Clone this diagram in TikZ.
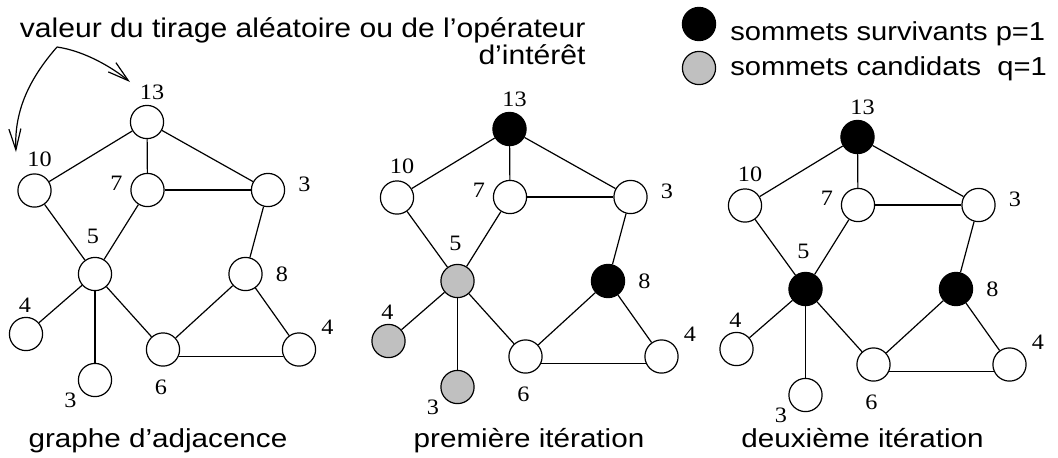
\documentclass[tikz,border=0pt]{standalone}
\usepackage{fontspec}
\setmainfont{Liberation Serif}
\newfontfamily\lsans{Liberation Sans}
\usepackage{graphicx}
\usetikzlibrary{arrows.meta}
\definecolor{candgray}{RGB}{192,192,192}
\newcommand\numlab[1]{\scalebox{1.1}[1]{#1}}
\newcommand\sanslab[1]{\scalebox{1.14}[1]{#1}}
\newcommand\drawgraph[8]{%
 \begin{scope}[shift={(#2,#3)}]
  \node[#4] (#1n13) at (147,122) {};
  \node[vtx] (#1n10) at (34.5,190.5) {};
  \node[vtx] (#1n7) at (147.5,190) {};
  \node[vtx] (#1n3) at (268,190) {};
  \node[#5] (#1n5) at (95,274) {};
  \node[#6] (#1n8) at (245.5,274) {};
  \node[#7] (#1n4l) at (26,334) {};
  \node[vtx] (#1n6) at (163,349.5) {};
  \node[vtx] (#1n4r) at (299,349.5) {};
  \node[#8] (#1n3b) at (95,380) {};
  \node[numtxt] (#1l13) at (152,92.5) {\numlab{13}};
  \node[numtxt] (#1l10) at (39.5,159.5) {\numlab{10}};
  \node[numtxt] (#1l7) at (116.5,183.5) {\numlab{7}};
  \node[numtxt] (#1l3) at (304.5,184) {\numlab{3}};
  \node[numtxt] (#1l5) at (93,236) {\numlab{5}};
  \node[numtxt] (#1l8) at (282,274) {\numlab{8}};
  \node[numtxt] (#1l4l) at (25,305) {\numlab{4}};
  \node[numtxt] (#1l4r) at (327.5,327) {\numlab{4}};
  \node[numtxt] (#1l6) at (161,387.5) {\numlab{6}};
  \node[numtxt] (#1l3b) at (70.5,400) {\numlab{3}};
  \draw[edge] (#1n13) -- (#1n10);
  \draw[edge] (#1n13) -- (#1n7);
  \draw[edge] (#1n13) -- (#1n3);
  \draw[edge] (#1n7) -- (#1n3);
  \draw[edge] (#1n10) -- (#1n5);
  \draw[edge] (#1n7) -- (#1n5);
  \draw[edge] (#1n3) -- (#1n8);
  \draw[edge] (#1n5) -- (#1n4l);
  \draw[edge] (#1n5) -- (#1n3b);
  \draw[edge] (#1n5) -- (#1n6);
  \draw[edge] (#1n6) -- (#1n8);
  \draw[edge] (#1n8) -- (#1n4r);
  \draw[edge] (#1n6.-24) -- (#1n4r.-156);
 \end{scope}}
\begin{document}
\begin{tikzpicture}[x=0.5pt,y=-0.5pt,
  vtx/.style={circle,draw,line width=0.6pt,minimum size=16.6pt,inner sep=0pt,fill=white},
  surv/.style={vtx,fill=black},
  cand/.style={vtx,fill=candgray},
  numtxt/.style={inner sep=0pt,font=\fontsize{11}{13}\selectfont},
  edge/.style={line width=0.6pt},
  sanstxt/.style={inner sep=0pt,font=\lsans\fontsize{13}{15}\selectfont},
  toptxt/.style={inner sep=0pt,font=\lsans\fontsize{13.5}{15}\selectfont},
  pointer/.style={line width=0.6pt,-{Straight Barb[length=10.5pt,width=6pt]}}]
\useasboundingbox (0,0) rectangle (1058,457);
\drawgraph{A}{0}{0}{vtx}{vtx}{vtx}{vtx}{vtx}
\drawgraph{B}{362.5}{7}{surv}{cand}{surv}{cand}{cand}
\drawgraph{C}{710.5}{15}{surv}{surv}{surv}{vtx}{vtx}
% top annotation
\node[toptxt,anchor=base east] (t1) at (586,37.5) {\scalebox{1.115}[1]{valeur du tirage aléatoire ou de l’opérateur}};
\node[toptxt,anchor=base east] (t2) at (586,64) {\scalebox{1.115}[1]{d’intérêt}};
\coordinate (apex) at (57,47);
\coordinate (tipR) at (130,82);
\coordinate (tipL) at (16,152);
\draw[pointer] (apex) .. controls (85,51) and (113,68) .. (tipR);
\draw[pointer] (apex) .. controls (30,78) and (14,110) .. (tipL);
% legend
\node[surv] (legS) at (699,24) {};
\node[cand] (legC) at (699,68) {};
\node[sanstxt,anchor=base west] (legSt) at (730,40) {\scalebox{1.12}[1]{sommets survivants p=1}};
\node[sanstxt,anchor=base west] (legCt) at (730,75) {\scalebox{1.12}[1]{sommets candidats\ \ q=1}};
% captions
\node[sanstxt,anchor=base] (capA) at (158,447) {\sanslab{graphe d’adjacence}};
\node[sanstxt,anchor=base] (capB) at (529,447) {\sanslab{première itération}};
\node[sanstxt,anchor=base] (capC) at (862.5,447) {\sanslab{deuxième itération}};
\end{tikzpicture}
\end{document}
